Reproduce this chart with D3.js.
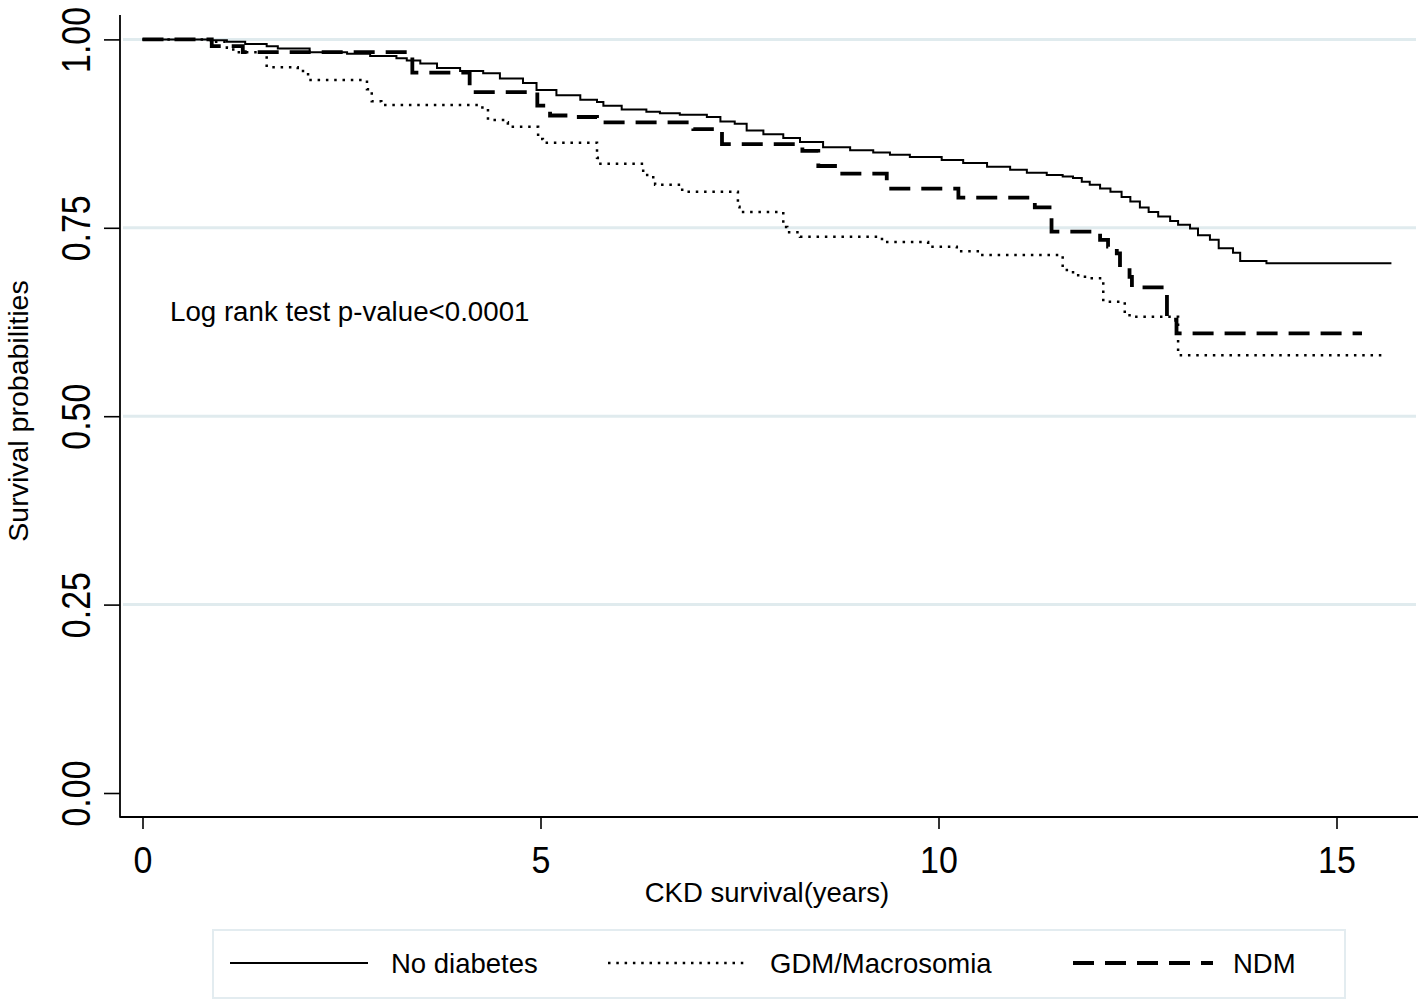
<!DOCTYPE html>
<html>
<head>
<meta charset="utf-8">
<script src="https://cdn.jsdelivr.net/npm/d3@7"></script>
<style>
  html, body { margin: 0; padding: 0; background: #fff; }
  svg { display: block; font-family: "Liberation Sans", Arial, sans-serif; }
</style>
</head>
<body>
<svg id="chart" width="1418" height="1001"></svg>
<script>
// ---- Data ----
const seriesNames = ["No diabetes", "GDM/Macrosomia", "NDM"];

const noDiabetesTime = [0, 0.85, 1.06, 1.29, 1.56, 1.70, 2.10, 2.57, 2.86, 3.19, 3.32, 3.49, 3.70, 3.99, 4.28, 4.49, 4.78, 4.95, 5.20, 5.50, 5.71, 5.79, 6.02, 6.33, 6.50, 6.75, 7.09, 7.26, 7.44, 7.59, 7.80, 8.05, 8.26, 8.55, 8.89, 9.18, 9.39, 9.64, 10.04, 10.31, 10.61, 10.90, 11.11, 11.36, 11.56, 11.69, 11.80, 11.90, 12.03, 12.16, 12.30, 12.41, 12.53, 12.64, 12.76, 12.91, 13.01, 13.16, 13.26, 13.41, 13.52, 13.70, 13.79, 14.12, 15.69];
const noDiabetesSurv = [1.000, 0.999, 0.997, 0.994, 0.991, 0.988, 0.983, 0.981, 0.978, 0.975, 0.972, 0.968, 0.962, 0.958, 0.955, 0.948, 0.942, 0.933, 0.926, 0.920, 0.917, 0.912, 0.907, 0.904, 0.902, 0.900, 0.897, 0.891, 0.888, 0.879, 0.874, 0.869, 0.864, 0.857, 0.853, 0.850, 0.847, 0.844, 0.840, 0.836, 0.831, 0.827, 0.823, 0.820, 0.818, 0.816, 0.811, 0.807, 0.802, 0.798, 0.791, 0.785, 0.777, 0.771, 0.765, 0.759, 0.754, 0.749, 0.740, 0.734, 0.723, 0.717, 0.706, 0.703, 0.703];

const gdmTime = [0, 0.87, 1.06, 1.14, 1.56, 1.95, 2.08, 2.82, 2.88, 3.00, 4.27, 4.34, 4.53, 4.59, 4.97, 5.03, 5.71, 5.72, 6.29, 6.34, 6.44, 6.78, 7.48, 7.50, 8.05, 8.10, 8.26, 9.29, 9.87, 10.23, 10.52, 11.56, 11.69, 11.84, 12.07, 12.34, 12.40, 13.01, 15.61];
const gdmSurv = [1.000, 0.997, 0.989, 0.983, 0.963, 0.958, 0.946, 0.934, 0.918, 0.913, 0.908, 0.893, 0.890, 0.884, 0.868, 0.863, 0.843, 0.835, 0.823, 0.817, 0.807, 0.798, 0.778, 0.771, 0.751, 0.744, 0.738, 0.731, 0.725, 0.719, 0.714, 0.694, 0.687, 0.683, 0.652, 0.636, 0.632, 0.581, 0.581];

const ndmTime = [0, 0.87, 1.26, 3.39, 4.11, 4.96, 5.12, 5.45, 5.71, 6.92, 7.28, 8.29, 8.49, 8.76, 9.35, 10.25, 11.21, 11.42, 12.03, 12.13, 12.24, 12.28, 12.40, 12.43, 12.87, 12.99, 15.32];
const ndmSurv = [1.000, 0.991, 0.983, 0.956, 0.930, 0.912, 0.899, 0.897, 0.890, 0.881, 0.861, 0.852, 0.832, 0.822, 0.802, 0.790, 0.777, 0.745, 0.734, 0.725, 0.716, 0.698, 0.685, 0.671, 0.628, 0.610, 0.610];

const xTicks = [0, 5, 10, 15];
const yTicks = [0, 0.25, 0.5, 0.75, 1];
const yGrid = [0.25, 0.5, 0.75, 1];

const xTitle = "CKD survival(years)";
const yTitle = "Survival probabilities";
const annotation = "Log rank test p-value<0.0001";

// ---- Layout ----
const svg = d3.select("#chart");
const x = d3.scaleLinear().domain([0, 15]).range([142.5, 1336.5]);
const y = d3.scaleLinear().domain([0, 1]).range([793, 39.4]);
const axisX = 120, axisY = 817;

// gridlines
svg.append("g").selectAll("line").data(yGrid).join("line")
  .attr("x1", 123).attr("x2", 1416)
  .attr("y1", d => y(d)).attr("y2", d => y(d))
  .attr("stroke", "#e0ebee").attr("stroke-width", 3);

// y axis
const gy = svg.append("g").attr("transform", `translate(${axisX},0)`)
  .call(d3.axisLeft(y).tickValues(yTicks).tickFormat(d3.format(".2f")).tickSize(16).tickSizeOuter(0));
gy.select(".domain").remove();
gy.selectAll(".tick line").attr("stroke", "#000").attr("stroke-width", 1.6);
gy.selectAll(".tick text")
  .attr("x", null).attr("dy", null).attr("y", null)
  .attr("text-anchor", "middle")
  .attr("transform", "translate(-30,0) rotate(-90) scale(1,1.22)")
  .attr("font-size", 34).attr("fill", "#000")
  .attr("font-family", "'Liberation Sans', Arial, sans-serif");
svg.append("line").attr("x1", axisX).attr("x2", axisX).attr("y1", 15).attr("y2", axisY + 0.8)
  .attr("stroke", "#000").attr("stroke-width", 1.8);

// x axis
const gx = svg.append("g").attr("transform", `translate(0,${axisY})`)
  .call(d3.axisBottom(x).tickValues(xTicks).tickFormat(d3.format("d")).tickSize(12).tickSizeOuter(0));
gx.select(".domain").remove();
gx.selectAll(".tick line").attr("stroke", "#000").attr("stroke-width", 1.6);
gx.selectAll(".tick text")
  .attr("dy", null).attr("y", null)
  .attr("transform", "translate(0,56) scale(1,1.1)")
  .attr("font-size", 34).attr("fill", "#000")
  .attr("font-family", "'Liberation Sans', Arial, sans-serif");
svg.append("line").attr("x1", axisX).attr("x2", 1418).attr("y1", axisY).attr("y2", axisY)
  .attr("stroke", "#000").attr("stroke-width", 1.8);

// titles
svg.append("text").attr("x", 767).attr("y", 902).attr("text-anchor", "middle")
  .attr("font-size", 27.5).text(xTitle);
svg.append("text").attr("transform", "translate(28,411) rotate(-90)").attr("text-anchor", "middle")
  .attr("font-size", 28.5).text(yTitle);
svg.append("text").attr("x", 170).attr("y", 321)
  .attr("font-size", 27.7).text(annotation);

// curves
const line = d3.line().x(d => x(d[0])).y(d => y(d[1])).curve(d3.curveStepAfter);
const series = [
  { name: seriesNames[0], t: noDiabetesTime, s: noDiabetesSurv, width: 2, dash: null },
  { name: seriesNames[1], t: gdmTime, s: gdmSurv, width: 2.5, dash: "2.5,5.8" },
  { name: seriesNames[2], t: ndmTime, s: ndmSurv, width: 3.8, dash: "21,11" }
];
const plot = svg.append("g");
series.forEach(sr => {
  const pts = sr.t.map((t, i) => [t, sr.s[i]]);
  plot.append("path").attr("d", line(pts))
    .attr("fill", "none").attr("stroke", "#000")
    .attr("stroke-width", sr.width)
    .attr("stroke-dasharray", sr.dash)
    .attr("stroke-linejoin", "miter");
});

// legend
const lg = svg.append("g");
lg.append("rect").attr("x", 213).attr("y", 930).attr("width", 1132).attr("height", 68)
  .attr("fill", "#fff").attr("stroke", "#e3ecf0").attr("stroke-width", 2);
const legendItems = [
  { x0: 230, x1: 368, tx: 391 },
  { x0: 608, x1: 748, tx: 770 },
  { x0: 1073, x1: 1213, tx: 1233 }
];
series.forEach((sr, i) => {
  const it = legendItems[i];
  lg.append("line").attr("x1", it.x0).attr("x2", it.x1).attr("y1", 963).attr("y2", 963)
    .attr("stroke", "#000").attr("stroke-width", sr.width).attr("stroke-dasharray", sr.dash);
  lg.append("text").attr("x", it.tx).attr("y", 973).attr("font-size", 27.5).text(sr.name);
});
</script>
</body>
</html>
